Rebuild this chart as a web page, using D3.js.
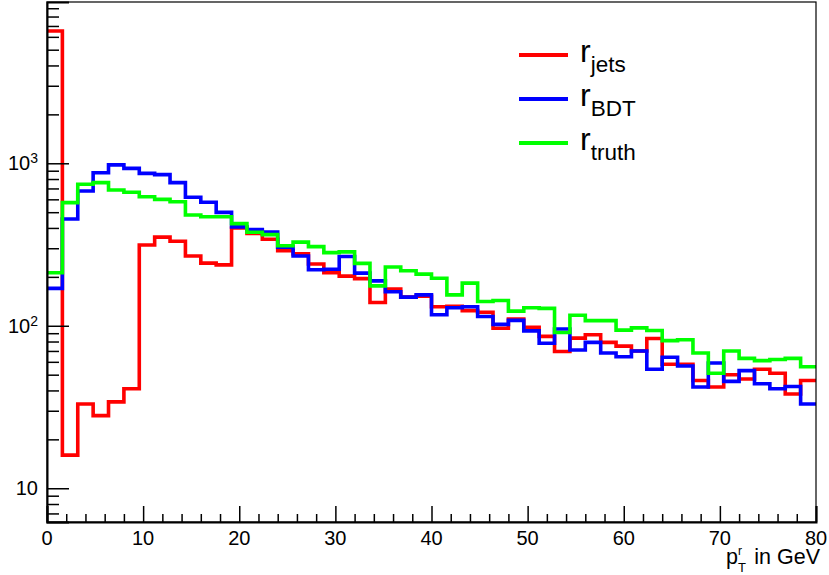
<!DOCTYPE html>
<html>
<head>
<meta charset="utf-8">
<script src="https://cdn.jsdelivr.net/npm/d3@7"></script>
<style>
	body { margin: 0; background: #fff; }
	svg { display: block; font-family: "Liberation Sans", Arial, Helvetica, sans-serif; }
</style>
</head>
<body>
<svg id="chart" width="829" height="575"></svg>
<script>
// 50 bins of 1.6 GeV from 0 to 80
const binWidth = 1.6;
const binCount = 50;

const rJets = [6520, 16, 33, 28, 34, 41, 314, 351, 331, 269,
	243, 237, 400, 370, 341, 290, 277, 240, 212, 202,
	195, 139, 168, 150, 152, 131, 132, 124, 121, 96.5,
	110, 98, 86, 69.5, 84, 88, 79, 75, 70, 83.5,
	58, 58, 46, 42, 50, 47, 54, 51, 38, 46];

const rBDT = [170, 454, 675, 875, 977, 931, 867, 851, 760, 618,
	576, 499, 406, 391, 378, 305, 269, 221, 223, 267,
	211, 189, 162, 150, 155, 117, 129, 131, 114, 102,
	108, 93, 78, 95.5, 71, 79, 68, 64.5, 70, 54,
	64, 56.5, 42, 59, 45.5, 53, 44, 41, 42.3, 33];

const rTruth = [212, 573, 743, 760, 685, 663, 622, 600, 580, 481,
	469, 469, 425, 376, 364, 311, 327, 307, 282, 285,
	242, 176, 230, 218, 208, 196, 155, 183, 141, 143,
	123, 129, 128, 91, 116, 107.5, 107.5, 94, 97, 93.5,
	81, 82, 68, 51, 70, 63, 61, 62, 63, 56];

const seriesNames = ['jets', 'BDT', 'truth'];
const seriesColors = ['#ff0000', '#0000ff', '#00ff00'];

const xMajorTicks = [0, 10, 20, 30, 40, 50, 60, 70, 80];
const yMajorTicks = [10, 100, 1000];
const yTickLabels = [['10', ''], ['10', '2'], ['10', '3']];

const dim = {l: 47, r: 816, t: 2, b: 522};

const svg = d3.select('#chart');

const x = d3.scaleLinear().domain([0, 80]).range([dim.l, dim.r]);
const y = d3.scaleLog().domain([6.2, 9830]).range([dim.b, dim.t]);

svg.append('defs').append('clipPath').attr('id', 'plot')
	.append('rect')
	.attr('x', dim.l).attr('y', dim.t)
	.attr('width', dim.r - dim.l).attr('height', dim.b - dim.t);

// histograms drawn as steps
const edges = d3.range(binCount + 1).map(i => i * binWidth);
const stepLine = d3.line()
	.x(d => x(d[0]))
	.y(d => y(d[1]))
	.curve(d3.curveStepAfter);

[rJets, rBDT, rTruth].forEach((vals, k) => {
	const pts = edges.map((e, i) => [e, vals[Math.min(i, binCount - 1)]]);
	svg.append('path')
		.attr('clip-path', 'url(#plot)')
		.attr('d', stepLine(pts))
		.attr('fill', 'none')
		.attr('stroke', seriesColors[k])
		.attr('stroke-width', 3.6);
});

// frame
svg.append('rect')
	.attr('x', dim.l).attr('y', dim.t)
	.attr('width', dim.r - dim.l).attr('height', dim.b - dim.t)
	.attr('fill', 'none').attr('stroke', '#000').attr('stroke-width', 1.2);

// x axis ticks (pointing up, into the pad)
const xMinor = d3.range(0, 81, 2).filter(v => xMajorTicks.indexOf(v) < 0);
svg.append('g')
	.attr('transform', `translate(0, ${dim.b})`)
	.call(d3.axisBottom(x).tickValues(xMinor).tickSize(-8).tickFormat(''))
	.call(g => g.select('.domain').remove());
svg.append('g')
	.attr('transform', `translate(0, ${dim.b})`)
	.call(d3.axisBottom(x).tickValues(xMajorTicks).tickSize(-16).tickFormat(''))
	.call(g => g.select('.domain').attr('stroke-width', 2));
svg.selectAll('.tick line').attr('stroke-width', 1.5);

svg.append('g').selectAll('text')
	.data(xMajorTicks)
	.join('text')
	.attr('x', d => x(d))
	.attr('y', dim.b + 23)
	.attr('text-anchor', 'middle')
	.attr('font-size', 20)
	.text(d => d);

// y axis ticks
const yMinor = y.ticks().filter(v => yMajorTicks.indexOf(v) < 0);
svg.append('g')
	.attr('transform', `translate(${dim.l}, 0)`)
	.call(d3.axisLeft(y).tickValues(yMinor).tickSize(-12).tickFormat(''))
	.call(g => g.select('.domain').remove())
	.selectAll('line').attr('stroke-width', 1.5);
svg.append('g')
	.attr('transform', `translate(${dim.l}, 0)`)
	.call(d3.axisLeft(y).tickValues(yMajorTicks).tickSize(-22).tickFormat(''))
	.call(g => g.select('.domain').attr('stroke-width', 2))
	.selectAll('line').attr('stroke-width', 1.5);

const yLab = svg.append('g').selectAll('text')
	.data(yMajorTicks)
	.join('text')
	.attr('x', 38)
	.attr('y', d => y(d) + 7)
	.attr('text-anchor', 'end')
	.attr('font-size', 20);
yLab.append('tspan').text((d, i) => yTickLabels[i][0]);
yLab.append('tspan')
	.attr('font-size', 14)
	.attr('dy', -7)
	.text((d, i) => yTickLabels[i][1]);

// axis title
const title = svg.append('g').attr('font-size', 21.5);
title.append('text').attr('x', 726).attr('y', 564).text('p');
title.append('text').attr('x', 738).attr('y', 555).attr('font-size', 12).text('r');
title.append('text').attr('x', 738).attr('y', 572).attr('font-size', 13).text('T');
title.append('text').attr('x', 820).attr('y', 564).attr('text-anchor', 'end').text('in GeV');

// legend
const legend = svg.append('g')
	.selectAll('g')
	.data(seriesNames)
	.join('g')
	.attr('transform', (d, i) => `translate(519, ${55 + i * 44})`);
legend.append('line')
	.attr('x1', 0).attr('x2', 49)
	.attr('stroke', (d, i) => seriesColors[i])
	.attr('stroke-width', 4);
const legText = legend.append('text')
	.attr('x', 61)
	.attr('y', 7)
	.attr('font-size', 32);
legText.append('tspan').text('r');
legText.append('tspan')
	.attr('font-size', 22.5)
	.attr('dy', 10)
	.text(d => d);
</script>
</body>
</html>
